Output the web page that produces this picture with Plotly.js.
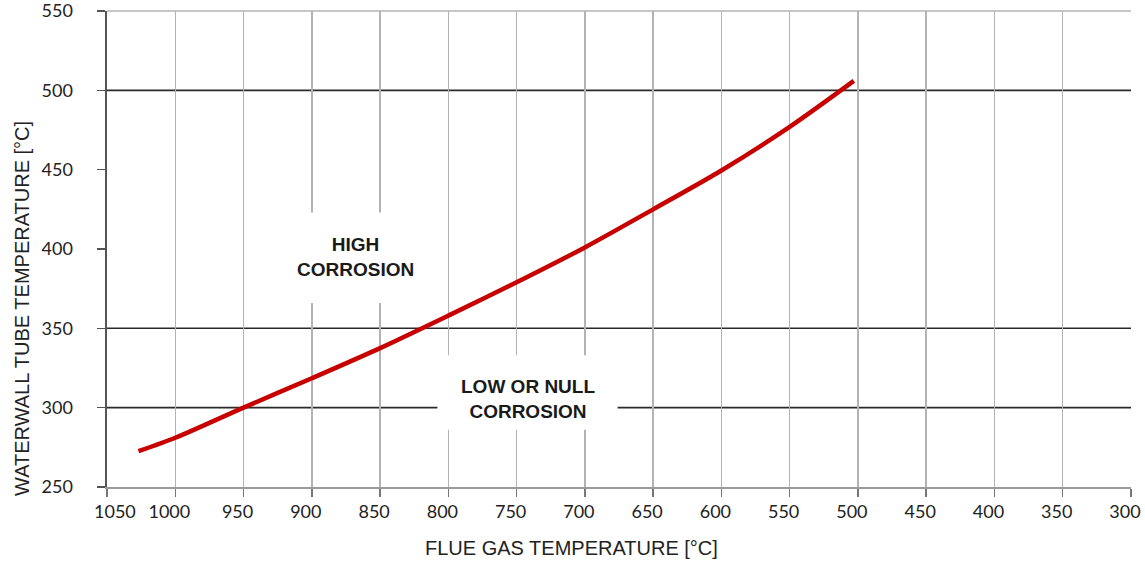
<!DOCTYPE html>
<html>
<head>
<meta charset="utf-8">
<script src="https://cdn.plot.ly/plotly-3.0.1.min.js"></script>
<style>
  html, body { margin: 0; padding: 0; background: #ffffff; }
  #chart { width: 1145px; height: 562px; }
</style>
</head>
<body>
<div id="chart"></div>
<script>
// Flue gas temperature (°C) vs. waterwall tube temperature (°C)
const flueGasTemp = [1027, 1000, 950, 900, 850, 800, 750, 700, 650, 600, 550, 503];
const tubeTemp    = [272.5, 281, 300, 318.5, 337.5, 358, 379, 401, 425, 449.5, 477, 506];

const xTicks = [1050, 1000, 950, 900, 850, 800, 750, 700, 650, 600, 550, 500, 450, 400, 350, 300];
const yTicks = [250, 300, 350, 400, 450, 500, 550];
const refLines = [500, 350, 300];

const xTitle = 'FLUE GAS TEMPERATURE [°C]';
const yTitle = 'WATERWALL TUBE TEMPERATURE [°C]';
const highLabel = 'HIGH<br>CORROSION';
const lowLabel = 'LOW OR NULL<br>CORROSION';

// first label nudged inward (as in the reference) with non-breaking spaces
const NB = '\u00A0';
const xTickText = xTicks.map((v, i) => (i === 0 ? NB.repeat(6) + v : String(v)));

const trace = {
  x: flueGasTemp,
  y: tubeTemp,
  type: 'scatter',
  mode: 'lines',
  line: { color: '#c70000', width: 4.5, shape: 'spline', smoothing: 0.8 },
  hoverinfo: 'x+y'
};

const shapes = [];
// top border
shapes.push({ type: 'line', xref: 'paper', yref: 'paper', x0: 0, x1: 1, y0: 1, y1: 1,
  line: { color: '#b5b5b5', width: 1.5 }, layer: 'between' });
// dark horizontal reference lines
refLines.forEach(v => shapes.push({ type: 'line', xref: 'paper', yref: 'y', x0: 0, x1: 1, y0: v, y1: v,
  line: { color: '#2a2a2a', width: 1.6 }, layer: 'between' }));
// white boxes behind the region labels (gaps in the grid)
shapes.push({ type: 'rect', xref: 'x', yref: 'y', x0: 917, x1: 816, y0: 366, y1: 423,
  fillcolor: '#ffffff', line: { width: 0 }, layer: 'between' });
shapes.push({ type: 'rect', xref: 'x', yref: 'y', x0: 808, x1: 676, y0: 286, y1: 333,
  fillcolor: '#ffffff', line: { width: 0 }, layer: 'between' });

const annFont = { family: 'Liberation Sans, Arial, sans-serif', size: 19, color: '#1a1a1a' };
const titleFont = { family: 'Liberation Sans, Arial, sans-serif', size: 20, color: '#222' };

const layout = {
  width: 1145,
  height: 562,
  margin: { l: 107, r: 14, t: 11, b: 75 },
  paper_bgcolor: '#ffffff',
  plot_bgcolor: '#ffffff',
  showlegend: false,
  xaxis: {
    range: [1050.05, 299.95],
    tickvals: xTicks,
    ticktext: xTickText,
    showgrid: true,
    gridcolor: '#b3b3b3',
    gridwidth: 1.5,
    zeroline: false,
    showline: true,
    linecolor: '#9a9a9a',
    linewidth: 1.5,
    ticks: 'outside',
    ticklen: 8,
    tickcolor: '#777',
    tickwidth: 1.5,
    ticklabelstandoff: 0,
    ticklabelshift: 6,
    ticklabeloverflow: 'allow',
    tickfont: { family: 'Lato, sans-serif', size: 18, color: '#222' }
  },
  yaxis: {
    range: [249.95, 550.05],
    tickvals: yTicks,
    ticktext: yTicks.map(String),
    showgrid: false,
    zeroline: false,
    showline: true,
    linecolor: '#555',
    linewidth: 2.5,
    ticks: 'outside',
    ticklen: 8,
    tickcolor: '#555',
    tickwidth: 1.5,
    ticklabelstandoff: 20,
    ticklabeloverflow: 'allow',
    tickfont: { family: 'Lato, sans-serif', size: 18, color: '#222' }
  },
  shapes: shapes,
  annotations: [
    { xref: 'x', yref: 'y', x: 868, y: 395, text: '<b>' + highLabel + '</b>', showarrow: false,
      font: annFont, align: 'center' },
    { xref: 'x', yref: 'y', x: 742, y: 305.5, text: '<b>' + lowLabel + '</b>', showarrow: false,
      font: annFont, align: 'center' },
    { xref: 'paper', yref: 'paper', x: 0.4537, y: -0.128, xanchor: 'center', yanchor: 'middle',
      text: xTitle, showarrow: false, font: titleFont },
    { xref: 'paper', yref: 'paper', x: -0.083, y: 0.374, xanchor: 'center', yanchor: 'middle',
      text: yTitle, showarrow: false, textangle: -90, font: titleFont }
  ]
};

Plotly.newPlot('chart', [trace], layout, { displayModeBar: false, staticPlot: true });
</script>
</body>
</html>
